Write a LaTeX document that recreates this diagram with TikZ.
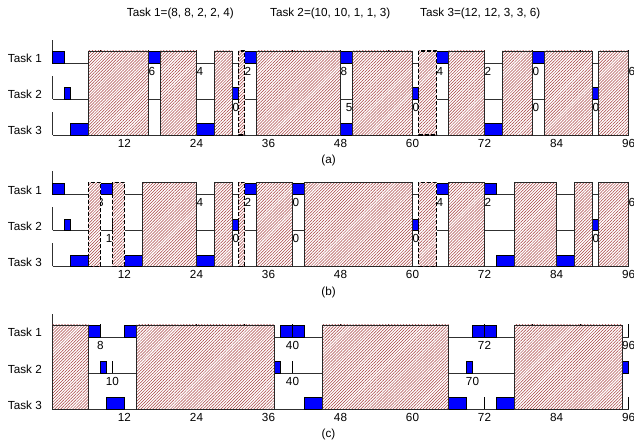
\documentclass[tikz,border=0pt]{standalone}
\usepackage{fontspec}
\setmainfont{Liberation Sans}
\usetikzlibrary{patterns.meta}
\definecolor{jobBlue}{HTML}{0000FF}
\definecolor{idleRed}{HTML}{A84040}
\definecolor{axInk}{HTML}{303030}
\tikzset{
  rowline/.style={draw=axInk, line width=0.8pt},
  job/.style={draw=black, fill=jobBlue, line width=0.7pt},
  relmark/.style={draw=black, line width=0.8pt},
  idle/.style={draw=black!85, line width=0.7pt, preaction={fill=white},
    pattern={Lines[angle=45, distance=2.1pt, line width=0.5pt]}, pattern color=idleRed},
  idledash/.style={idle, draw=black, line width=1.3pt, dash pattern=on 4pt off 2pt},
  lbl/.style={font=\fontsize{11.7}{14}\selectfont, inner sep=0pt},
}
% one panel: three rows with base lines, release marks and their times
\newcommand{\rowframe}{%
  \foreach \r in {1,2,3} {
    \draw[rowline] (0,{27+36*\r}) -- (96,{27+36*\r});
    \draw[rowline] (0,{27+36*\r}) -- (0,{4+36*\r});
    \node[lbl, anchor=base east] at (-1.75,{27+36*\r}) {Task \r};
  }}
\newcommand{\releases}{%
  \foreach \r/\ticks in {1/{8,16,...,96}, 2/{10,20,...,90}, 3/{12,24,...,96}} {
    \foreach \t in \ticks {
      \draw[relmark] (\t,{27+36*\r}) -- ++(0,-12.5);
      \node[lbl, anchor=north] at (\t,{31+36*\r}) {\t};
    }
  }}

\begin{document}
\begin{tikzpicture}[x=6pt, y=-1pt]
  \useasboundingbox (-8.75,0) rectangle (96.917,443);

  \node[lbl, anchor=base west] (t1) at (12.37,16.3) {Task 1=(8, 8, 2, 2, 4)};
  \node[lbl, anchor=base west] (t2) at (36.25,16.3) {Task 2=(10, 10, 1, 1, 3)};
  \node[lbl, anchor=base west] (t3) at (61.25,16.3) {Task 3=(12, 12, 3, 3, 6)};

  % (a)
  \begin{scope}
    \rowframe
    \foreach \r/\a/\b in {1/0/2, 1/16/18, 1/32/34, 1/48/50, 1/64/66, 1/80/82,
      2/2/3, 2/30/31, 2/60/61, 2/90/91, 3/3/6, 3/24/27, 3/48/50, 3/72/75}
      \draw[job] (\a,{27+36*\r}) rectangle (\b,{15.5+36*\r});
    \releases
    \foreach \a/\b in {6/16, 18/24, 27/30, 34/48, 50/60, 66/72, 75/80, 82/90, 91/96}
      \draw[idle] (\a,51) rectangle (\b,135);
    \foreach \a/\b in {31/32, 61/64}
      \draw[idledash] (\a,51) rectangle (\b,135);
    \node[lbl] (capa) at (46,160.5) {(a)};
  \end{scope}

  % (b)
  \begin{scope}[shift={(0,131.5)}]
    \rowframe
    \foreach \r/\a/\b in {1/0/2, 1/8/10, 1/32/34, 1/40/42, 1/64/66, 1/72/74,
      2/2/3, 2/30/31, 2/60/61, 2/90/91, 3/3/6, 3/12/15, 3/24/27, 3/74/77, 3/84/87}
      \draw[job] (\a,{27+36*\r}) rectangle (\b,{15.5+36*\r});
    \releases
    \foreach \a/\b in {15/24, 27/30, 34/40, 42/60, 66/72, 77/84, 87/90, 91/96}
      \draw[idle] (\a,51) rectangle (\b,135);
    \foreach \a/\b in {6/8, 10/12, 31/32, 61/64}
      \draw[idledash] (\a,51) rectangle (\b,135);
    \node[lbl] (capb) at (46,160.5) {(b)};
  \end{scope}

  % (c)
  \begin{scope}[shift={(0,274)}]
    \rowframe
    \foreach \r/\a/\b in {1/6/8, 1/12/14, 1/38/40, 1/40/42, 1/70/72, 1/72/74,
      2/8/9, 2/37/38, 2/69/70, 2/95/96, 3/9/12, 3/42/45, 3/66/69, 3/74/77}
      \draw[job] (\a,{27+36*\r}) rectangle (\b,{15.5+36*\r});
    \releases
    \foreach \a/\b in {0/6, 14/37, 45/66, 77/95}
      \draw[idle] (\a,51) rectangle (\b,135);
    \node[lbl] (capc) at (46,160.5) {(c)};
  \end{scope}
\end{tikzpicture}
\end{document}
